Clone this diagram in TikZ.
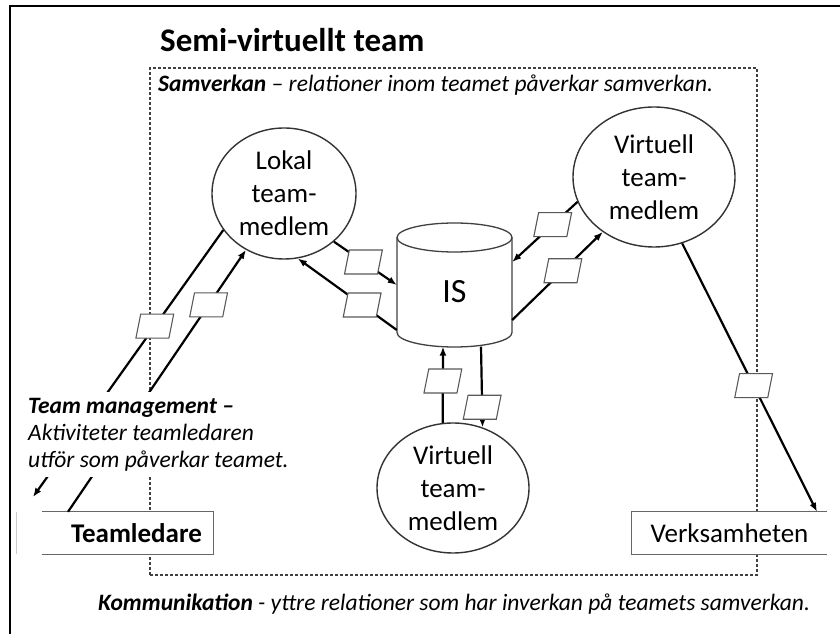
\documentclass[tikz,border=0pt]{standalone}
\usepackage{fontspec}
\setmainfont{Carlito}
\usetikzlibrary{shapes.geometric,arrows.meta}

\begin{document}
\begin{tikzpicture}[x=1pt,y=1pt,
    member/.style={ellipse,draw=black!80,line width=1.4pt,fill=white,inner sep=0pt,align=center,font=\fontsize{27}{33}\selectfont},
    flow/.style={line width=2.2pt,-{Latex[length=9pt,width=7pt]}},
    msg/.style={draw=black!65,line width=1.1pt,fill=white,minimum width=33pt,minimum height=24pt,inner sep=0pt,xslant=0.2},
    extbox/.style={fill=white,inner sep=0pt,minimum height=42pt,font=\fontsize{27}{33}\selectfont},
    boxline/.style={draw=black!60,line width=1.3pt},
    note/.style={font=\fontsize{23.5}{27}\selectfont\itshape,inner sep=0pt}]

    \useasboundingbox (0,0) rectangle (840,634);
    \fill[white] (0,0) rectangle (840,634);

    % frame
    \draw[line width=2.2pt] (10,0) -- (10,628) -- (840,628);
    \draw[black!20,line width=1pt] (16,80) -- (16,122);

    \node[anchor=base west,inner sep=0pt,font=\fontsize{33}{38}\selectfont\bfseries] (title) at (160,582) {Semi-virtuellt team};
    \draw[black!75,line width=1.3pt,dash pattern=on 3pt off 2pt] (150,59) rectangle (757,566);
    \node[note,anchor=base west] (samv) at (158,542) {\textbf{Samverkan} – relationer inom teamet påverkar samverkan.};

    % team members
    \node[member,minimum width=144pt,minimum height=131pt] (lokal) at (284,440.5) {Lokal\\team-\\medlem};
    \node[member,minimum width=162pt,minimum height=140pt] (virtR) at (654,457) {Virtuell\\team-\\medlem};
    \node[member,minimum width=152pt,minimum height=130pt] (virtB) at (453,146) {Virtuell\\team-\\medlem};

    % IS
    \fill[white] (397,396.5) -- (397,301.5) arc[start angle=180,end angle=360,x radius=57.5pt,y radius=14.5pt] -- (512,396.5) arc[start angle=0,end angle=180,x radius=57.5pt,y radius=14.5pt] -- cycle;
    \draw[black!75,line width=1.3pt] (397,396.5) -- (397,301.5) arc[start angle=180,end angle=360,x radius=57.5pt,y radius=14.5pt] -- (512,396.5);
    \draw[black!75,line width=1.3pt] (454.5,396.5) ellipse[x radius=57.5pt,y radius=14.5pt];
    \node[inner sep=0pt,minimum width=115pt,minimum height=109pt,font=\fontsize{34}{40}\selectfont] (is) at (454.5,342) {IS};

    % outside
    \node[extbox,minimum width=171pt] (leader) at (127.5,101) {\hspace*{18pt}\textbf{Teamledare}};
    \draw[boxline] (leader.north west) -- (leader.north east) -- (leader.south east) -- (leader.south west);
    \node[extbox,minimum width=195pt] (org) at (729.5,101) {Verksamheten};
    \draw[boxline] (org.north east) -- (org.north west) -- (org.south west) -- (org.south east);
    \coordinate (tmEnd) at (33,137);

    % flows
    \draw[flow] (lokal.211) -- node[msg,pos=0.36] {} (tmEnd);
    \draw[flow] ([xshift=-59.5pt]leader.north) -- node[msg,pos=0.79] {} (lokal.236);
    \draw[flow] (lokal.316) -- node[msg,pos=0.47] {} ([yshift=7pt]is.west);
    \draw[flow] ([yshift=-38pt]is.west) -- node[msg,pos=0.35] {} (lokal.282);
    \draw[flow] (virtR.198) -- node[msg,pos=0.38] {} ([yshift=30pt]is.east);
    \draw[flow] ([yshift=-28pt]is.east) -- node[msg,pos=0.56] {} (virtR.227);
    \draw[flow] (virtB.99) -- node[msg,pos=0.55] {} ([xshift=-11.5pt]is.south);
    \draw[flow] ([xshift=26.5pt]is.south) -- node[msg,pos=0.75] {} (virtB.64);
    \draw[flow] (virtR.293) -- node[msg,pos=0.53] {} ([xshift=87.5pt]org.north);

    \node[note,anchor=north west,fill=white,inner xsep=2pt,inner ysep=6pt,align=left] (tm) at (26,242) {\textbf{Team management –}\\Aktiviteter teamledaren\\utför som påverkar teamet.};
    \node[note,anchor=base west] (komm) at (98,23) {\textbf{Kommunikation} - yttre relationer som har inverkan på teamets samverkan.};

\end{tikzpicture}
\end{document}
